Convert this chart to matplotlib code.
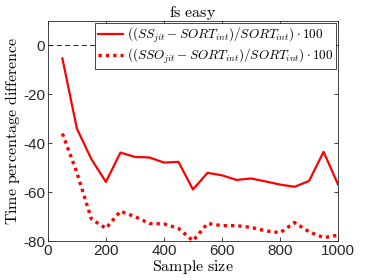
import matplotlib
matplotlib.use("Agg")
import matplotlib.pyplot as plt

sample_size = [50, 100, 150, 200, 250, 300, 350, 400, 450, 500,
               550, 600, 650, 700, 750, 800, 850, 900, 950, 1000]
ss_jit = [-5.3, -34, -46.5, -55.8, -43.8, -45.6, -45.8, -47.9, -47.6, -58.9,
          -52.1, -53.1, -55.0, -54.4, -55.6, -56.9, -57.8, -55.4, -43.5, -56.9]
sso_jit = [-36, -52, -71, -74.8, -67.8, -70, -72.8, -73, -74.8, -79.9,
           -72.8, -73.7, -73.7, -74.4, -75.8, -76.6, -72.4, -76.2, -78.6, -77.6]
xticks = [0, 200, 400, 600, 800, 1000]
yticks = [-80, -60, -40, -20, 0]

plt.rcParams['mathtext.fontset'] = 'cm'
plt.rcParams['axes.unicode_minus'] = False
plt.rcParams['font.family'] = ['Liberation Sans', 'DejaVu Sans']

fig = plt.figure(figsize=(3.74, 2.8), dpi=100)
ax = fig.add_axes([0.128, 0.139, 0.776, 0.786])

ax.plot([0, 1000], [0, 0], color='black', linestyle=(0, (6, 4)), linewidth=0.6)
ax.plot(sample_size, ss_jit, color='red', linewidth=1.6,
        label=r'$((SS_{jit}-SORT_{int})/SORT_{int})\cdot 100$')
ax.plot(sample_size, sso_jit, color='red', linewidth=2.4, linestyle=(0, (1, 1.2)),
        label=r'$((SSO_{jit}-SORT_{int})/SORT_{int})\cdot 100$')

ax.set_xlim(0, 1000)
ax.set_ylim(-80, 10)
ax.set_xticks(xticks)
ax.set_yticks(yticks)
ax.tick_params(direction='in', top=True, right=True, labelsize=11,
               colors='#262626', length=3, width=0.6, pad=2)
for s in ax.spines.values():
    s.set_color('#262626')
    s.set_linewidth(0.6)

ax.set_title(r'$\mathrm{fs\ easy}$', fontsize=11.5, pad=3)
ax.set_xlabel(r'$\mathrm{Sample\ size}$', fontsize=11.5, labelpad=0)
ax.set_ylabel(r'$\mathrm{Time\ percentage\ difference}$', fontsize=11.5, labelpad=1)

leg = ax.legend(loc='upper right', fontsize=9.5, frameon=True, fancybox=False,
                borderaxespad=0.15, handlelength=1.9, handletextpad=0.3,
                borderpad=0.2, labelspacing=0.15)
leg.get_frame().set_edgecolor('#262626')
leg.get_frame().set_linewidth(0.6)
leg.get_frame().set_alpha(1)

fig.savefig('out.png', dpi=100)
